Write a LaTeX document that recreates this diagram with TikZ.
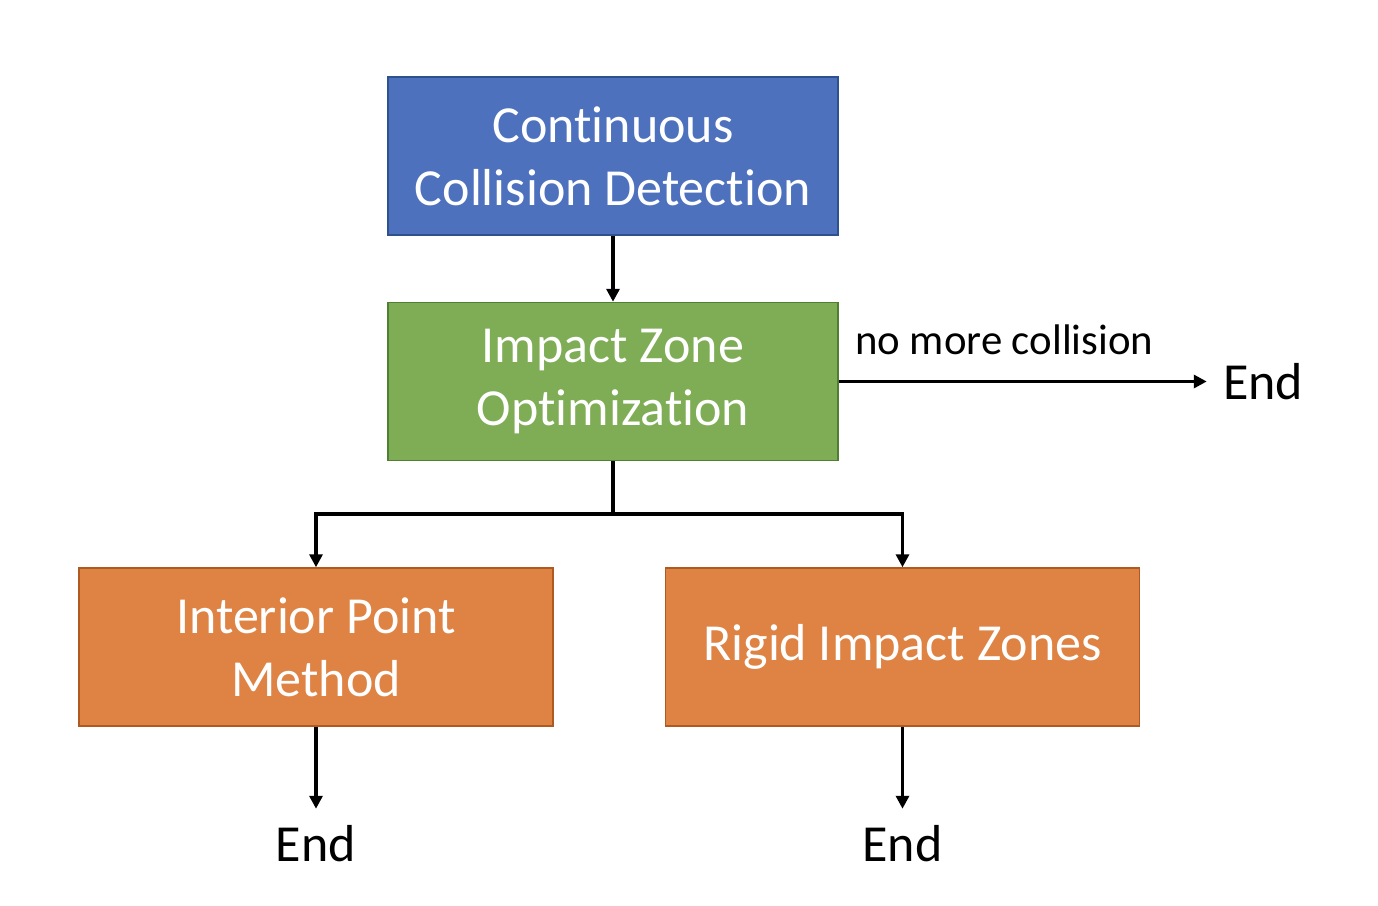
\documentclass[tikz,border=0pt]{standalone}
\usepackage{fontspec}
\setmainfont[Ligatures=NoCommon]{Carlito}
\usetikzlibrary{arrows.meta, positioning}

\definecolor{detectfill}{HTML}{4E71BE}
\definecolor{detectline}{HTML}{2F528F}
\definecolor{optfill}{HTML}{7EAD55}
\definecolor{optline}{HTML}{507E32}
\definecolor{methodfill}{HTML}{DF8344}
\definecolor{methodline}{HTML}{AE5A21}

\begin{document}
\begin{tikzpicture}[
        x=0.5pt, y=-0.5pt,
        box/.style={rectangle, draw, line width=0.75pt, align=center, text=white,
            minimum height=79pt, font=\fontsize{26}{31.5}\selectfont},
        detect/.style={box, fill=detectfill, draw=detectline, minimum width=225pt},
        optimize/.style={box, fill=optfill, draw=optline, minimum width=225pt},
        method/.style={box, fill=methodfill, draw=methodline, minimum width=237pt},
        endtext/.style={inner sep=8pt, font=\fontsize{26}{31.5}\selectfont},
        arrow/.style={line width=1.8pt, -{Triangle[length=6.5pt, width=6.5pt]}},
    ]
\useasboundingbox (0,0) rectangle (1378,906);

\node[detect] (Detect) at (613,156) {Continuous\\Collision Detection};

\node[optimize, below=33pt of Detect] (Optimize) {Impact Zone\\Optimization};
\draw[arrow] (Detect) -- (Optimize);

\node[endtext, right=184pt of Optimize] (EndOptimize) {End};
\draw[arrow] (Optimize.east) -- (EndOptimize)
    node[pos=0, above right, xshift=4pt, yshift=9pt, font=\fontsize{21.4}{26}\selectfont] {no more collision};

\node[method] (Interior) at (316,647) {Interior Point\\Method};
\node[method, right=55.5pt of Interior] (Rigid) {Rigid Impact Zones};

\coordinate[below=26.5pt of Optimize.south] (Split);
\draw[arrow] (Optimize.south) -- (Split) -| (Interior.north);
\draw[arrow] (Split) -| (Rigid.north);

\node[endtext, below=41pt of Interior] (EndInterior) {End};
\draw[arrow] (Interior) -- (EndInterior);

\node[endtext, below=41pt of Rigid] (EndRigid) {End};
\draw[arrow] (Rigid) -- (EndRigid);
\end{tikzpicture}
\end{document}
